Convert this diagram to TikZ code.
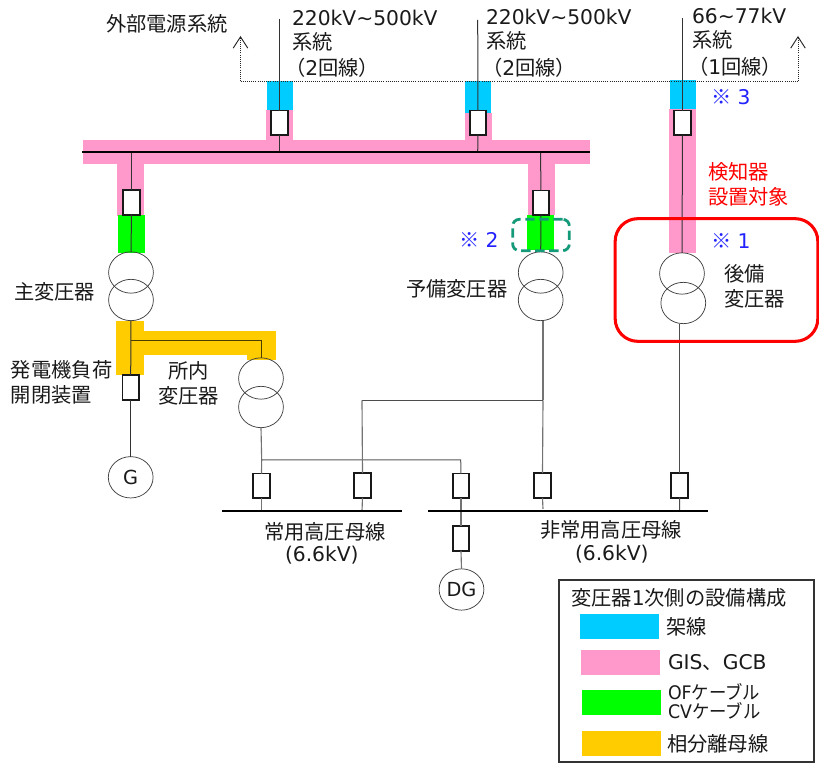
\documentclass[tikz,border=0pt]{standalone}
\usepackage{fontspec}
\setmainfont{Noto Sans CJK JP}
\newfontfamily\lat{DejaVu Sans}
\usetikzlibrary{shapes.geometric,arrows.meta}
\definecolor{cBlue}{HTML}{00CCFF}
\definecolor{cPink}{HTML}{FF99CC}
\definecolor{cGreen}{HTML}{00FF00}
\definecolor{cOrange}{HTML}{FFCC00}
\definecolor{cTeal}{HTML}{149A78}
\definecolor{cNote}{HTML}{2222FF}
\definecolor{cText}{HTML}{1A1A1A}
\tikzset{
  lab/.style={anchor=west,inner sep=0pt,outer sep=0pt,text height=13.5pt,text depth=1.9pt,text=cText,font=\fontsize{15.2}{18}\selectfont},
  tightlab/.style={lab,text height=11.6pt,text depth=1.6pt,font=\fontsize{14}{16}\selectfont,xscale=0.93,transform shape},
  wire/.style={draw=black!80,line width=0.75pt},
  greywire/.style={draw=black!55,line width=0.85pt},
  brk/.style={draw=black!90,fill=white,line width=1.35pt,minimum width=12.2pt,minimum height=18.6pt,inner sep=0pt,outer sep=0pt},
  trafo/.style={ellipse,draw=black!75,line width=0.55pt,minimum width=33.6pt,minimum height=31pt,inner sep=0pt,outer sep=0pt},
  busbar/.style={draw=black,line width=1.6pt},
  feed/.style={draw=black!85,line width=0.6pt,densely dotted},
  uparrow/.style={-{Straight Barb[length=8.5pt,width=11pt,line width=0.7pt]}},
}
\begin{document}
\begin{tikzpicture}[x=0.75pt,y=-0.75pt]
\path[use as bounding box,fill=white] (0,0) rectangle (819,763);

% coloured sections
\fill[cPink] (83,140) rectangle (590,164);
\fill[cBlue] (267,81) rectangle (293,111);
\fill[cPink] (266,110) rectangle (293,140);
\fill[cBlue] (465,81) rectangle (491,113);
\fill[cPink] (465,113) rectangle (492,140);
\fill[cPink] (117,164) rectangle (144,216);
\fill[cGreen] (118,215) rectangle (145,253);
\fill[cPink] (528,164) rectangle (555,215);
\fill[cGreen] (527,215) rectangle (554,250);
\fill[cBlue] (670,80) rectangle (696,110);
\fill[cPink] (669,109) rectangle (696,253);
\fill[cOrange] (116,321) rectangle (144,375);
\fill[cOrange] (144,331) rectangle (276,355);
\fill[cOrange] (247,355) rectangle (276,360);

% outer feed, dotted
\coordinate (fl) at (240.5,81);
\coordinate (fr) at (798,81);
\coordinate (fla) at (240.5,36);
\coordinate (fra) at (798,36);
\draw[feed,uparrow] (fl) -- (fla);
\draw[feed,uparrow] (fr) -- (fra);
\draw[feed] (fl) -- (fr);

% nodes
\node[trafo] (t1a) at (131,272.5) {};
\node[trafo] (t1b) at (131,300) {};
\node[trafo] (t2a) at (540.7,272.5) {};
\node[trafo] (t2b) at (540.7,300) {};
\node[trafo] (t3a) at (682,273.5) {};
\node[trafo] (t3b) at (683.3,303) {};
\node[trafo] (t4a) at (261,378.5) {};
\node[trafo] (t4b) at (261,407) {};
\node[trafo,font=\lat\fontsize{14.5}{17}\selectfont,text=cText] (gen) at (130.7,477.3) {G};
\node[trafo,font=\lat\fontsize{14.5}{17}\selectfont,text=cText] (dg) at (461.5,589.5) {DG};

\coordinate (top1) at (279.5,19);
\coordinate (top2) at (477.7,20);
\coordinate (top3) at (682.5,18);
\coordinate (j1) at (279.5,152);
\coordinate (j2) at (477.7,152);
\coordinate (j3) at (131.5,152);
\coordinate (j4) at (540.5,152);
\coordinate (busAl) at (82,152);
\coordinate (busAr) at (590,152);
\coordinate (busBl) at (222,511);
\coordinate (busBr) at (402,511);
\coordinate (busCl) at (428,511);
\coordinate (busCr) at (708,511);
\coordinate (s1) at (130.5,340.7);
\coordinate (s2) at (261,340.7);
\coordinate (a1) at (261.7,460);
\coordinate (a2) at (460.7,460);
\coordinate (r1) at (543,400.3);
\coordinate (r2) at (362,400.3);
\coordinate (d1) at (261.5,511);
\coordinate (d2) at (362,511);
\coordinate (d3) at (461,511);
\coordinate (d4) at (543,509);
\coordinate (d5) at (679.6,511);

\node[brk] (b1) at (279.5,123) {};
\node[brk] (b2) at (478,123) {};
\node[brk] (b3) at (682.5,123) {};
\node[brk] (b4) at (131.5,202.5) {};
\node[brk] (b5) at (541,203) {};
\node[brk] (b6) at (130.7,387.3) {};
\node[brk] (b7) at (261.5,486) {};
\node[brk] (b8) at (362.5,485.5) {};
\node[brk] (b9) at (461,486) {};
\node[brk] (b10) at (542.5,485.5) {};
\node[brk] (b11) at (679.5,485.3) {};
\node[brk] (b12) at (461,538.5) {};

% connectors
\draw[wire] (top1) -- (b1.north);
\draw[wire] (b1.south) -- (j1);
\draw[wire] (top2) -- (b2.north);
\draw[wire] (b2.south) -- (j2);
\draw[wire] (top3) -- (b3.north);
\draw[wire] (b3.south) -- (t3a.north);
\draw[wire] (j3) -- (b4.north);
\draw[wire] (b4.south) -- (t1a.north);
\draw[wire] (j4) -- (b5.north);
\draw[wire] (b5.south) -- (t2a.north);
\draw[wire] (t1b.south) -- (b6.north);
\draw[wire] (b6.south) -- (gen.north);
\draw[wire,draw=black!70!cOrange] (s1) -- (s2) -- (t4a.north);
\draw[greywire] (t4b.south) -- (a1);
\draw[greywire] (a1) -- (b7.north);
\draw[wire,draw=black!65] (a1) -- (a2) -- (b9.north);
\draw[greywire] (b7.south) -- (d1);
\draw[greywire] (r1 |- t2b.south) -- (r1);
\draw[greywire] (r1) -- (b10.north);
\draw[wire,draw=black!70] (r1) -- (r2);
\draw[greywire] (r2) -- (b8.north);
\draw[greywire] (b8.south) -- (d2);
\draw[greywire] (b9.south) -- (b12.north);
\draw[greywire] (b12.south) -- (dg.north);
\draw[greywire] (b10.south) -- (d4);
\draw[wire,draw=black!70] (b11.north |- t3b.south) -- (b11.north);
\draw[wire,draw=black!70] (b11.south) -- (d5);

% busbars
\draw[busbar] (busAl) -- (busAr);
\draw[busbar] (busBl) -- (busBr);
\draw[busbar] (busCl) -- (busCr);

% highlights
\node[draw=cTeal,line width=2.1pt,dashed,dash pattern=on 7pt off 3.5pt,rounded corners=5pt,minimum width=42.5pt,minimum height=23.5pt,inner sep=0pt] (h2) at (541,235) {};
\node[draw=red,line width=2.3pt,rounded corners=17pt,minimum width=152pt,minimum height=92pt,inner sep=0pt] (h1) at (716.5,280) {};

% labels
\node[lab] (l1) at (106,24) {外部電源系統};
\node[lab] (l2) at (292,18) {\lat 220kV\char"223C 500kV};
\node[lab] (l3) at (292,42) {系統};
\node[lab] (l4) at (285,68) {（{\lat 2}回線）};
\node[lab] (l5) at (486,17) {\lat 220kV\char"223C 500kV};
\node[lab] (l6) at (486,41) {系統};
\node[lab] (l7) at (482,68) {（{\lat 2}回線）};
\node[lab] (l8) at (692,16) {\lat 66\char"223C 77kV};
\node[lab] (l9) at (692,40) {系統};
\node[lab] (l10) at (688,67) {（{\lat 1}回線）};
\node[lab,text=cNote] (n3) at (711,97) {※{\lat\ 3}};
\node[lab,text=cNote] (n1) at (711,241) {※{\lat\ 1}};
\node[lab,text=cNote] (n2) at (459,240) {※{\lat\ 2}};
\node[lab,text=red] (l11) at (708,172) {検知器};
\node[lab,text=red] (l12) at (708,197) {設置対象};
\node[lab] (l13) at (724,274) {後備};
\node[lab] (l14) at (724,299) {変圧器};
\node[lab] (l15) at (14,292) {主変圧器};
\node[lab] (l16) at (406,289) {予備変圧器};
\node[lab] (l17) at (11,370) {発電機負荷};
\node[lab] (l18) at (11,395) {開閉装置};
\node[lab] (l19) at (168,371) {所内};
\node[lab] (l20) at (158,396) {変圧器};
\node[lab] (l21) at (264,532) {常用高圧母線};
\node[lab] (l22) at (285,554) {\lat (6.6kV)};
\node[lab] (l23) at (540,530) {非常用高圧母線};
\node[lab] (l24) at (575,553) {\lat (6.6kV)};

% legend
\node[draw=black!80,line width=1.1pt,minimum width=191pt,minimum height=136.5pt,inner sep=0pt] (leg) at (686.5,671) {};
\node[lab] (lt) at (571,598) {変圧器{\lat 1}次側の設備構成};
\fill[cBlue] (580,614) rectangle (659,639);
\fill[cPink] (581,650) rectangle (660,675);
\fill[cGreen] (582,690) rectangle (661,715);
\fill[cOrange] (582,731) rectangle (661,756);
\node[lab] (g1) at (666,627) {架線};
\node[lab] (g2) at (668,662) {{\lat GIS}、{\lat GCB}};
\node[tightlab] (g3) at (668,693) {{\lat OF}ケーブル};
\node[tightlab] (g4) at (668,712) {{\lat CV}ケーブル};
\node[lab] (g5) at (667,744) {相分離母線};
\end{tikzpicture}
\end{document}
